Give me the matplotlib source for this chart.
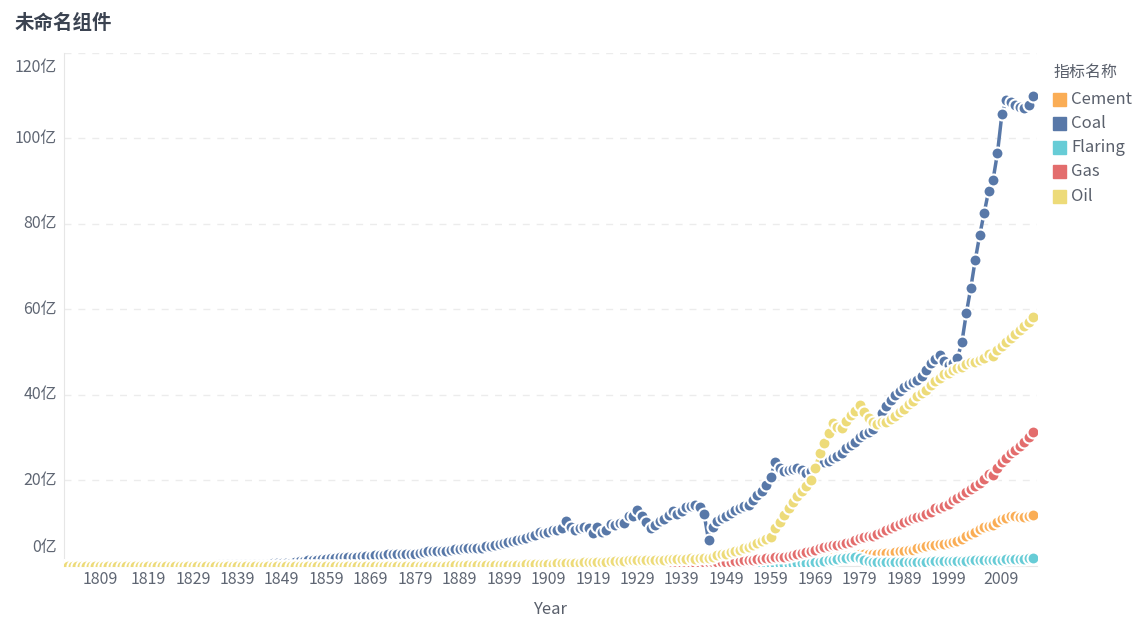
import matplotlib
matplotlib.use("Agg")
import matplotlib.pyplot as plt
from matplotlib.patches import Rectangle

plt.rcParams["font.family"] = ["Noto Sans CJK SC", "DejaVu Sans"]

years = list(range(1800, 2019))

coal = [
    0.1, 0.1, 0.1, 0.1, 0.1, 0.1, 0.1, 0.1, 0.1, 0.1,
    0.1, 0.1, 0.1, 0.1, 0.1, 0.2, 0.2, 0.2, 0.2, 0.2,
    0.2, 0.2, 0.2, 0.2, 0.2, 0.3, 0.3, 0.3, 0.3, 0.3,
    0.3, 0.3, 0.3, 0.3, 0.3, 0.4, 0.4, 0.4, 0.4, 0.4,
    0.4, 0.4, 0.5, 0.5, 0.5, 0.5, 0.5, 0.6, 0.6, 0.6,
    0.7, 0.8, 1.0, 1.1, 1.2, 1.3, 1.4, 1.5, 1.6, 1.7,
    1.8, 1.9, 2.0, 2.0, 2.1, 2.2, 2.2, 2.3, 2.3, 2.4,
    2.5, 2.5, 2.6, 2.8, 2.7, 2.8, 2.8, 2.8, 2.8, 2.9,
    3.1, 3.3, 3.4, 3.5, 3.5, 3.5, 3.5, 3.7, 3.9, 3.9,
    4.1, 4.2, 4.3, 4.3, 4.3, 4.6, 4.7, 4.9, 5.1, 5.4,
    5.7, 5.8, 6.0, 6.4, 6.5, 7.0, 7.3, 7.9, 7.6, 7.9,
    8.3, 8.5, 9.0, 10.6, 9.2, 8.4, 8.8, 9.2, 9.0, 7.8,
    9.2, 7.9, 8.3, 9.8, 9.7, 10.1, 10.0, 11.6, 11.8, 13.0,
    11.8, 10.2, 9.0, 9.6, 10.5, 11.0, 12.0, 12.8, 12.2, 12.9,
    13.8, 14.0, 14.2, 13.9, 12.2, 6.1, 9.1, 10.5, 11.2, 11.6,
    12.4, 13.2, 13.5, 14.0, 14.2, 15.5, 16.5, 17.5, 18.9, 20.8,
    24.3, 22.9, 22.2, 22.4, 22.6, 22.8, 22.4, 21.7, 22.3, 23.2,
    24.0, 24.3, 24.6, 25.2, 25.8, 26.5, 27.5, 28.3, 29.0, 30.2,
    30.8, 31.3, 32.0, 33.5, 35.7, 37.5, 38.8, 40.0, 41.0, 41.8,
    42.5, 43.0, 43.5, 44.5, 45.8, 47.5, 48.5, 49.3, 48.0, 47.0,
    47.5, 48.6, 52.3, 59.1, 65.0, 71.5, 77.3, 82.5, 87.6, 90.2,
    96.5, 105.6, 108.9, 108.5, 107.8, 107.2, 107.0, 107.7, 109.8,
]

oil = [0.0] * 70 + [
    0.01, 0.01, 0.02, 0.02, 0.02, 0.03, 0.03, 0.04, 0.05, 0.06,
    0.06, 0.07, 0.08, 0.08, 0.09, 0.10, 0.11, 0.12, 0.13, 0.14,
    0.15, 0.16, 0.17, 0.18, 0.18, 0.19, 0.20, 0.22, 0.24, 0.26,
    0.28, 0.30, 0.32, 0.34, 0.38, 0.40, 0.42, 0.48, 0.52, 0.55,
    0.58, 0.60, 0.63, 0.68, 0.70, 0.72, 0.78, 0.85, 0.85, 0.88,
    0.95, 0.95, 1.00, 1.10, 1.10, 1.15, 1.20, 1.30, 1.35, 1.45,
    1.40, 1.35, 1.30, 1.35, 1.40, 1.45, 1.55, 1.65, 1.65, 1.75,
    1.75, 1.80, 1.75, 1.80, 1.90, 1.80, 2.20, 2.50, 2.80, 2.90,
    3.2, 3.5, 3.8, 4.1, 4.4, 4.9, 5.3, 5.8, 6.3, 6.8,
    8.8, 10.3, 12.0, 13.6, 15.0, 16.3, 17.5, 18.8, 20.2, 22.9,
    26.4, 28.8, 31.1, 33.4, 32.6, 32.2, 34.0, 35.2, 36.3, 37.6,
    36.0, 34.5, 33.6, 33.3, 33.6, 33.6, 34.4, 35.0, 36.0, 36.8,
    37.8, 38.6, 39.8, 40.4, 41.2, 42.3, 43.2, 44.0, 44.8, 45.2,
    45.8, 46.2, 46.6, 47.2, 47.6, 47.8, 48.2, 48.6, 49.5, 49.2,
    50.5, 51.5, 52.4, 53.3, 54.3, 55.2, 56.0, 57.0, 58.2,
]

gas = [0.0] * 85 + [
    0.02, 0.03, 0.04, 0.05, 0.05,
    0.05, 0.05, 0.05, 0.05, 0.05, 0.05, 0.05, 0.05, 0.05, 0.06,
    0.07, 0.07, 0.08, 0.08, 0.09, 0.10, 0.10, 0.11, 0.12, 0.13,
    0.14, 0.15, 0.16, 0.17, 0.17, 0.18, 0.19, 0.20, 0.21, 0.22,
    0.24, 0.23, 0.26, 0.30, 0.33, 0.35, 0.38, 0.42, 0.45, 0.50,
    0.48, 0.45, 0.42, 0.43, 0.47, 0.50, 0.55, 0.60, 0.60, 0.63,
    0.66, 0.70, 0.74, 0.78, 0.82, 0.82, 0.85, 0.92, 0.98, 1.00,
    1.05, 1.15, 1.22, 1.30, 1.38, 1.48, 1.58, 1.68, 1.78, 1.90,
    2.00, 2.10, 2.22, 2.40, 2.60, 2.80, 3.00, 3.20, 3.50, 3.80,
    4.10, 4.40, 4.60, 4.80, 5.00, 5.10, 5.40, 5.70, 6.00, 6.50,
    6.70, 6.90, 7.10, 7.40, 8.00, 8.40, 8.80, 9.40, 9.90, 10.40,
    10.80, 11.20, 11.40, 11.80, 12.20, 12.70, 13.50, 13.60, 14.00, 14.60,
    15.40, 16.00, 16.60, 17.30, 18.00, 18.60, 19.40, 20.40, 21.60, 21.30,
    22.80, 24.20, 25.30, 26.50, 27.20, 28.00, 29.00, 30.20, 31.30,
]

cement = [0.0] * 128 + [
    0.10, 0.10,
    0.10, 0.10, 0.08, 0.09, 0.10, 0.11, 0.13, 0.14, 0.15, 0.16,
    0.17, 0.18, 0.18, 0.17, 0.15, 0.12, 0.16, 0.20, 0.24, 0.28,
    0.32, 0.37, 0.40, 0.45, 0.50, 0.55, 0.60, 0.65, 0.72, 0.80,
    0.85, 0.90, 0.95, 1.05, 1.15, 1.20, 1.30, 1.38, 1.48, 1.60,
    1.70, 1.80, 1.92, 2.05, 2.10, 2.10, 2.25, 2.40, 2.55, 2.70,
    2.75, 2.75, 2.80, 2.90, 3.00, 3.05, 3.15, 3.30, 3.45, 3.55,
    3.70, 3.85, 4.10, 4.35, 4.60, 4.90, 5.00, 5.15, 5.25, 5.40,
    5.60, 5.90, 6.30, 6.90, 7.50, 8.00, 8.60, 9.10, 9.30, 9.60,
    10.30, 11.00, 11.30, 11.60, 11.80, 11.50, 11.40, 11.60, 11.90,
]

flaring = [0.0] * 150 + [
    0.20, 0.22, 0.24, 0.26, 0.28, 0.30, 0.33, 0.36, 0.38, 0.40,
    0.42, 0.45, 0.48, 0.52, 0.56, 0.60, 0.66, 0.72, 0.80, 0.90,
    1.00, 1.15, 1.30, 1.50, 1.70, 1.80, 1.95, 2.05, 2.00, 1.80,
    1.30, 1.10, 1.00, 1.00, 1.00, 1.00, 1.00, 1.00, 1.05, 1.05,
    1.05, 1.05, 1.05, 1.05, 1.05, 1.10, 1.10, 1.10, 1.10, 1.10,
    1.10, 1.15, 1.20, 1.25, 1.30, 1.35, 1.35, 1.40, 1.45, 1.45,
    1.50, 1.50, 1.55, 1.60, 1.65, 1.70, 1.75, 1.80, 1.90,
]

names = ["Cement", "Coal", "Flaring", "Gas", "Oil"]
colors = ["#FAAD55", "#5878A8", "#67CCD6", "#E36D6D", "#EDDB79"]
series = [cement, coal, flaring, gas, oil]

y_ticks = [0, 20, 40, 60, 80, 100, 120]
x_ticks = list(range(1809, 2010, 10))

W, H = 1140, 634
fig = plt.figure(figsize=(W / 100, H / 100), dpi=100)
ax = fig.add_axes([64 / W, 1 - 566 / H, 973 / W, (566 - 52.7) / H])

for i, (name, vals) in enumerate(zip(names, series)):
    ax.plot(years, vals, color=colors[i], lw=2.5,
            marker="o", ms=8.6, mfc=colors[i], mec="white", mew=1.5,
            zorder=3 + i)

ax.set_xlim(1800, 2018.9)
ax.set_ylim(0, 120)

# grid + axes
ax.set_yticks(y_ticks)
ax.set_xticks([])
ax.set_yticklabels([])
ax.tick_params(length=0)
ax.grid(axis="y", color="#ececec", lw=1, dashes=(5, 5))
for s in ["top", "right"]:
    ax.spines[s].set_visible(False)
ax.spines["left"].set_color("#e6e6e6")
ax.spines["bottom"].set_color("#e6e6e6")

tick_color = "#5f6673"
for v in y_ticks:
    dy = 0
    if v == 0:
        dy = 13
    elif v == 120:
        dy = -11
    ax.annotate(f"{v}亿", xy=(0, v), xycoords=("axes fraction", "data"),
                xytext=(-5, dy), textcoords="offset points",
                ha="right", va="center", fontsize=11.5, color=tick_color)

for yr in x_ticks:
    dx = 0
    if yr == 1809:
        dx = -3
    elif yr == 2009:
        dx = 6
    ax.annotate(str(yr), xy=(yr, 0), xycoords=("data", "axes fraction"),
                xytext=(dx, -10), textcoords="offset points",
                ha="center", va="center", fontsize=11.5, color=tick_color)

fig.text(550 / W, 1 - 610 / H, "Year", ha="center", va="center",
         fontsize=12, color="#595f6b")

fig.text(15 / W, 1 - 23 / H, "未命名组件", ha="left", va="center",
         fontsize=14, fontweight="bold", color="#3b4351")

# legend
fig.text(1053 / W, 1 - 72 / H, "指标名称", ha="left", va="center",
         fontsize=11.5, color="#595f6b")
for i, name in enumerate(names):
    yc = 99 + i * 24.3
    fig.patches.append(Rectangle((1053 / W, 1 - (yc + 6.5) / H), 13 / W, 13 / H,
                                 transform=fig.transFigure, color=colors[i]))
    fig.text(1071 / W, 1 - yc / H, name, ha="left", va="center",
             fontsize=12, color="#5a606c")

fig.savefig("out.png", dpi=100)
